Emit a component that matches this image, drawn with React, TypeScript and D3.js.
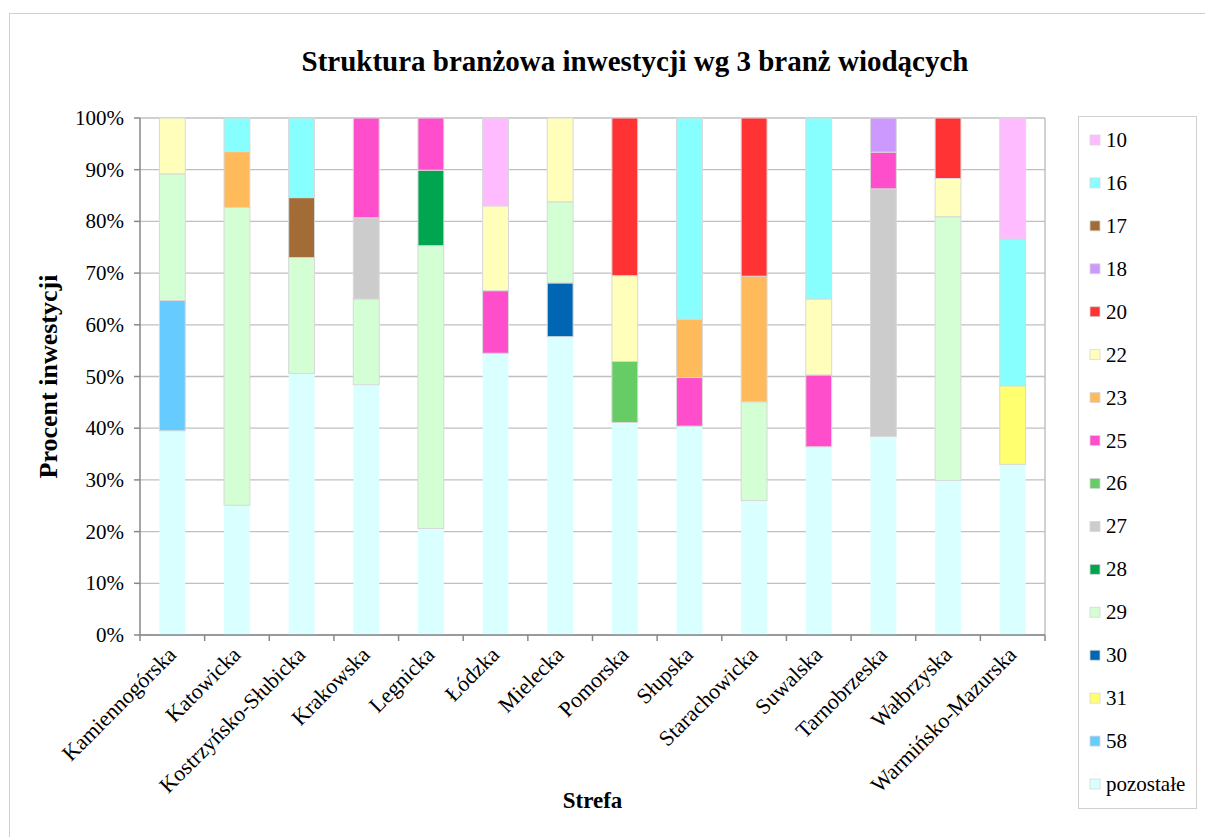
import React from 'react';
import * as d3 from 'd3';

// categories (strefy)
const zones = [
  'Kamiennogórska',
  'Katowicka',
  'Kostrzyńsko-Słubicka',
  'Krakowska',
  'Legnicka',
  'Łódzka',
  'Mielecka',
  'Pomorska',
  'Słupska',
  'Starachowicka',
  'Suwalska',
  'Tarnobrzeska',
  'Wałbrzyska',
  'Warmińsko-Mazurska'
];

// series in stacking order (bottom first)
const seriesKeys = ['pozostałe', '58', '31', '30', '29', '28', '27', '26', '25', '23', '22', '20', '18', '17', '16', '10'];

const seriesColors = {
  '10': '#FFBBFF',
  '16': '#88FFFF',
  '17': '#A36B35',
  '18': '#CC99FF',
  '20': '#FF3333',
  '22': '#FFFFBB',
  '23': '#FFBB5B',
  '25': '#FF4ECC',
  '26': '#66CC66',
  '27': '#CCCCCC',
  '28': '#00A550',
  '29': '#D4FFD4',
  '30': '#0066B3',
  '31': '#FFFF6F',
  '58': '#66CCFF',
  'pozostałe': '#D9FFFF'
};

// percent values per zone, keyed by branch
const pozostale = [39.5, 25.1, 50.6, 48.4, 20.6, 54.5, 57.7, 41.1, 40.4, 26.0, 36.4, 38.4, 29.9, 33.0];
const b10 = [0, 0, 0, 0, 0, 17.0, 0, 0, 0, 0, 0, 0, 0, 23.4];
const b16 = [0, 6.5, 15.4, 0, 0, 0, 0, 0, 38.9, 0, 35.0, 0, 0, 28.4];
const b17 = [0, 0, 11.6, 0, 0, 0, 0, 0, 0, 0, 0, 0, 0, 0];
const b18 = [0, 0, 0, 0, 0, 0, 0, 0, 0, 0, 0, 6.6, 0, 0];
const b20 = [0, 0, 0, 0, 0, 0, 0, 30.5, 0, 30.6, 0, 0, 11.7, 0];
const b22 = [10.8, 0, 0, 0, 0, 16.4, 16.2, 16.6, 0, 0, 14.7, 0, 7.4, 0];
const b23 = [0, 10.8, 0, 0, 0, 0, 0, 0, 11.3, 24.3, 0, 0, 0, 0];
const b25 = [0, 0, 0, 19.3, 10.1, 12.1, 0, 0, 9.4, 0, 13.9, 7.1, 0, 0];
const b26 = [0, 0, 0, 0, 0, 0, 0, 11.8, 0, 0, 0, 0, 0, 0];
const b27 = [0, 0, 0, 15.7, 0, 0, 0, 0, 0, 0, 0, 47.9, 0, 0];
const b28 = [0, 0, 0, 0, 14.6, 0, 0, 0, 0, 0, 0, 0, 0, 0];
const b29 = [24.5, 57.6, 22.4, 16.6, 54.7, 0, 15.7, 0, 0, 19.1, 0, 0, 51.0, 0];
const b30 = [0, 0, 0, 0, 0, 0, 10.4, 0, 0, 0, 0, 0, 0, 0];
const b31 = [0, 0, 0, 0, 0, 0, 0, 0, 0, 0, 0, 0, 0, 15.2];
const b58 = [25.2, 0, 0, 0, 0, 0, 0, 0, 0, 0, 0, 0, 0, 0];

const yTicks = [0, 10, 20, 30, 40, 50, 60, 70, 80, 90, 100];

const seriesValues = {
  'pozostałe': pozostale, '10': b10, '16': b16, '17': b17, '18': b18, '20': b20, '22': b22,
  '23': b23, '25': b25, '26': b26, '27': b27, '28': b28, '29': b29, '30': b30, '31': b31, '58': b58
};

const rows = zones.map((zone, i) => {
  const row: any = { zone };
  seriesKeys.forEach((k) => {
    row[k] = seriesValues[k][i];
  });
  return row;
});

const FONT = '"Liberation Serif", "Times New Roman", serif';

const App = () => {
  const width = 1205;
  const height = 837;
  const plot = { left: 140, right: 1045, top: 118, bottom: 635 };

  const x = d3.scaleBand().domain(zones).range([plot.left, plot.right]).paddingInner(0.6).paddingOuter(0.3);
  const y = d3.scaleLinear().domain([0, 100]).range([plot.bottom, plot.top]);
  const stacked = d3.stack().keys(seriesKeys)(rows);
  const step = x.step();

  const legendKeys = [...seriesKeys].reverse();
  const legendY = d3.scalePoint().domain(legendKeys).range([140, 784]);

  return (
    <div style={{ position: 'absolute', left: 0, top: 0 }}>
      <svg width={width} height={height} style={{ display: 'block', fontFamily: FONT }}>
        <rect x={0} y={0} width={width} height={height} fill="#fff" />
        <rect x={9.5} y={13.5} width={1200} height={830} fill="none" stroke="#d0d0d0" />

        <text x={635} y={71} textAnchor="middle" fontSize={29} fontWeight="bold">
          Struktura branżowa inwestycji wg 3 branż wiodących
        </text>

        {/* gridlines */}
        {yTicks.map((t) => (
          <line key={t} x1={plot.left} x2={plot.right} y1={y(t)} y2={y(t)} stroke="#c0c0c0" strokeWidth={1.3} />
        ))}
        <line x1={plot.right} x2={plot.right} y1={plot.top} y2={plot.bottom} stroke="#b8b8b8" strokeWidth={1.3} />

        {/* bars */}
        {stacked.map((layer) => (
          <g key={layer.key} fill={seriesColors[layer.key]}>
            {layer.map((d, i) =>
              d[1] - d[0] > 0 ? (
                <rect
                  key={i}
                  x={x(zones[i])}
                  width={x.bandwidth()}
                  y={y(d[1])}
                  height={y(d[0]) - y(d[1])}
                  stroke={layer.key === 'pozostałe' ? 'none' : '#d8d8d8'}
                  strokeWidth={1}
                />
              ) : null
            )}
          </g>
        ))}

        {/* y axis */}
        <line x1={plot.left} x2={plot.left} y1={plot.top} y2={plot.bottom} stroke="#888" strokeWidth={1.5} />
        {yTicks.map((t) => (
          <g key={t}>
            <line x1={plot.left - 6} x2={plot.left} y1={y(t)} y2={y(t)} stroke="#888" strokeWidth={1.5} />
            <text x={plot.left - 16} y={y(t) + 7} textAnchor="end" fontSize={21}>
              {t}%
            </text>
          </g>
        ))}

        {/* x axis */}
        <line x1={plot.left} x2={plot.right} y1={plot.bottom} y2={plot.bottom} stroke="#888" strokeWidth={1.5} />
        {d3.range(zones.length + 1).map((i) => (
          <line
            key={i}
            x1={plot.left + i * step}
            x2={plot.left + i * step}
            y1={plot.bottom}
            y2={plot.bottom + 6}
            stroke="#888"
            strokeWidth={1.5}
          />
        ))}
        {zones.map((z) => {
          const cx = x(z) + x.bandwidth() / 2 + 5;
          return (
            <text
              key={z}
              transform={`translate(${cx},${plot.bottom + 21}) rotate(-45)`}
              textAnchor="end"
              fontSize={22}
            >
              {z}
            </text>
          );
        })}

        <text x={(plot.left + plot.right) / 2} y={808} textAnchor="middle" fontSize={23} fontWeight="bold">
          Strefa
        </text>
        <text
          transform={`translate(57,${(plot.top + plot.bottom) / 2}) rotate(-90)`}
          textAnchor="middle"
          fontSize={26}
          fontWeight="bold"
        >
          Procent inwestycji
        </text>

        {/* legend */}
        <rect x={1078.5} y={116.5} width={118} height={692} fill="#fff" stroke="#d0d0d0" />
        {legendKeys.map((k) => (
          <g key={k} transform={`translate(1090,${legendY(k)})`}>
            <rect x={0} y={-5} width={10} height={10} fill={seriesColors[k]} stroke="#d8d8d8" strokeWidth={0.8} />
            <text x={16} y={7} fontSize={21}>
              {k}
            </text>
          </g>
        ))}
      </svg>
    </div>
  );
};

export default App;
